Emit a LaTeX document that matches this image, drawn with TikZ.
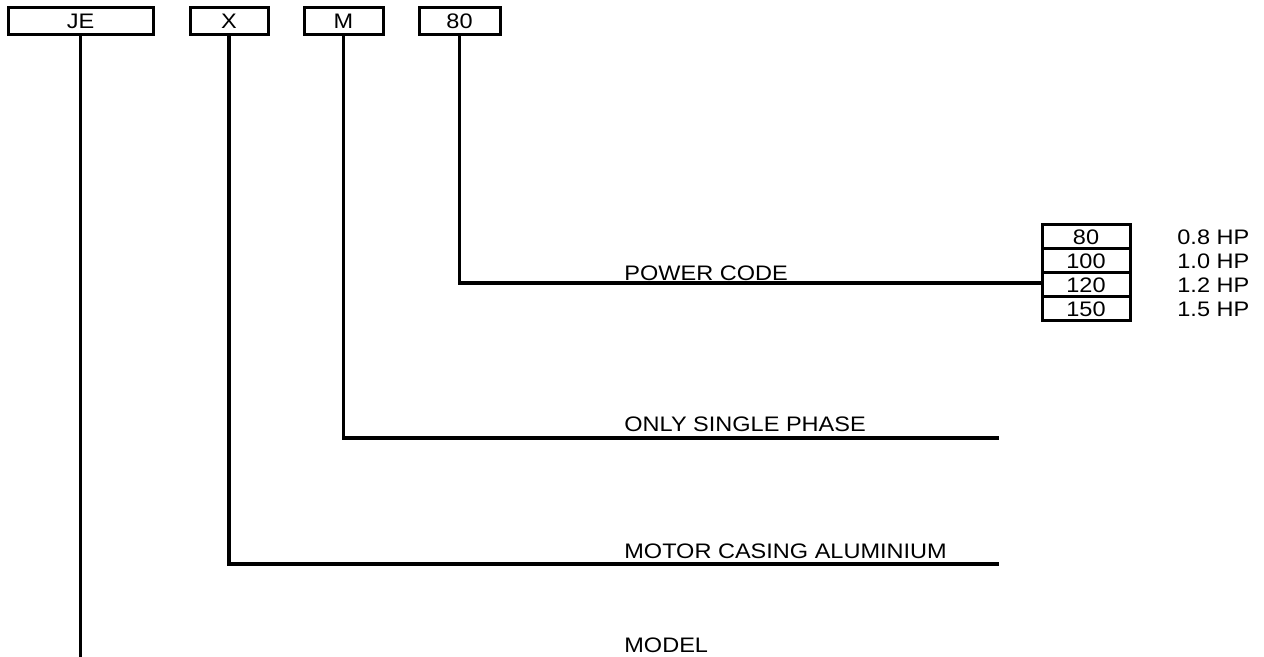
\documentclass[tikz,border=0pt]{standalone}
\usepackage{fontspec}
\setmainfont{Liberation Sans}[FakeStretch=1.12]
\begin{document}
\begin{tikzpicture}[x=0.5pt,y=-0.5pt,
  txt/.style={font=\fontsize{10.5}{12}\selectfont},
  codebox/.style={txt, draw, line width=1.5pt, inner sep=0pt, minimum height=13.5pt},
  rowbox/.style={txt, draw, line width=1.5pt, inner sep=0pt, minimum width=44pt, minimum height=12pt},
  lbl/.style={txt, anchor=west, inner sep=0pt},
  conn/.style={line width=1.7pt}]
\useasboundingbox (0,0) rectangle (1264,657);
% top code boxes
\node[codebox, minimum width=72.5pt] (je) at (80.5,21.5) {JE};
\node[codebox, minimum width=39pt] (x) at (229,21.5) {X};
\node[codebox, minimum width=39.5pt] (m) at (343.5,21.5) {M};
\node[codebox, minimum width=40.5pt] (p) at (459.5,21.5) {80};
% power table
\node[rowbox] (r1) at (1086,237) {80};
\node[rowbox] (r2) at (1086,261) {100};
\node[rowbox] (r3) at (1086,285) {120};
\node[rowbox] (r4) at (1086,309) {150};
\node[lbl] (h1) at (1177,237) {0.8 HP};
\node[lbl] (h2) at (1177,261) {1.0 HP};
\node[lbl] (h3) at (1177,285) {1.2 HP};
\node[lbl] (h4) at (1177,309) {1.5 HP};
% labels
\node[lbl] (lp) at (624,273) {POWER CODE};
\node[lbl] (lm) at (624,424) {ONLY SINGLE PHASE};
\node[lbl] (lx) at (624,551) {MOTOR CASING ALUMINIUM};
\node[lbl] (lj) at (624,645) {MODEL};
% connector ends
\coordinate (pend) at (1042,283);
\coordinate (mend) at (999,438);
\coordinate (xend) at (999,564);
\coordinate (jend) at (80.5,657);
% connectors
\draw[conn] (p.south) |- (pend);
\draw[conn] (m.south) |- (mend);
\draw[conn] (x.south) |- (xend);
\draw[conn] (je.south) -- (jend);
\end{tikzpicture}
\end{document}
